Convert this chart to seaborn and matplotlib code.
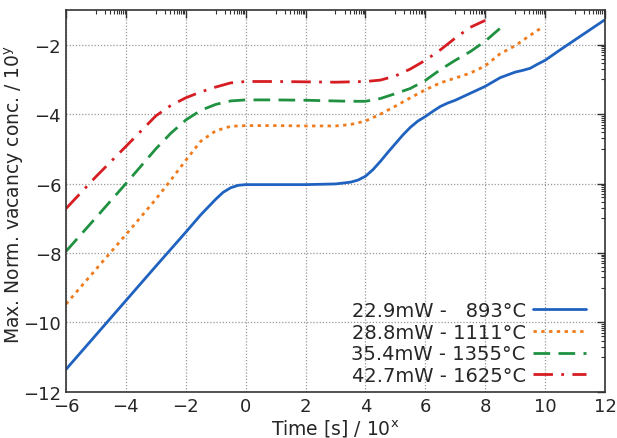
import numpy as np
import pandas as pd
import matplotlib
matplotlib.use("Agg")
import matplotlib.pyplot as plt
import seaborn as sns

# values (log10 time, log10 max. norm. vacancy conc.)
t_893 = [-6, -5, -4, -3, -2, -1.5, -1, -0.75, -0.5, -0.25, 0, 1, 2, 3, 3.5, 3.75, 4,
         4.25, 4.5, 4.75, 5, 5.25, 5.5, 5.75, 6, 6.25, 6.5, 6.75, 7, 7.5, 8, 8.5, 9,
         9.25, 9.5, 9.75, 10, 10.5, 11, 11.5, 12]
c_893 = [-11.35, -10.36, -9.37, -8.38, -7.4, -6.9, -6.45, -6.25, -6.12, -6.05, -6.03,
         -6.03, -6.03, -6.01, -5.96, -5.9, -5.79, -5.6, -5.36, -5.1, -4.85, -4.6, -4.38,
         -4.2, -4.07, -3.92, -3.78, -3.68, -3.6, -3.4, -3.2, -2.95, -2.79, -2.74, -2.68,
         -2.56, -2.45, -2.15, -1.86, -1.57, -1.28]

t_1111 = [-6, -5, -4, -3, -2.5, -2, -1.5, -1, -0.5, 0, 1, 2, 3, 3.5, 4, 4.5, 5, 5.5,
          6, 6.5, 7, 7.5, 8, 8.5, 9, 9.5, 9.9]
c_1111 = [-9.47, -8.47, -7.47, -6.45, -5.9, -5.33, -4.78, -4.48, -4.35, -4.33, -4.33,
          -4.34, -4.34, -4.3, -4.2, -4.0, -3.77, -3.53, -3.3, -3.1, -2.96, -2.82, -2.61,
          -2.26, -2.03, -1.73, -1.5]

t_1355 = [-6, -5, -4, -3, -2.5, -2, -1.5, -1, -0.5, 0, 1, 2, 3, 3.5, 4, 4.5, 5, 5.5,
          6, 6.5, 7, 7.5, 8, 8.6]
c_1355 = [-7.95, -6.98, -6.0, -5.0, -4.55, -4.17, -3.89, -3.72, -3.62, -3.59, -3.59,
          -3.6, -3.62, -3.63, -3.63, -3.55, -3.41, -3.26, -3.03, -2.72, -2.45, -2.2,
          -1.9, -1.45]

t_1625 = [-6, -5, -4, -3, -2.5, -2, -1.5, -1, -0.5, 0, 1, 2, 3, 3.5, 4, 4.5, 5, 5.5,
          6, 6.5, 7, 7.5, 8]
c_1625 = [-6.72, -5.8, -4.93, -4.05, -3.75, -3.53, -3.36, -3.22, -3.1, -3.06, -3.06,
          -3.07, -3.08, -3.07, -3.06, -3.02, -2.9, -2.7, -2.45, -2.15, -1.81, -1.5, -1.3]

labels = ["22.9mW -   893°C", "28.8mW - 1111°C", "35.4mW - 1355°C", "42.7mW - 1625°C"]
colors = ["#1f62c0", "#f07b1c", "#1f9141", "#d61d22"]
dashes = [None, (1.2, 1.6), (6, 3), (7, 3, 1, 3)]

sns.set_style("white")
plt.rcParams["font.family"] = ["DejaVu Sans"]

fig = plt.figure(figsize=(6.17, 4.39), dpi=100)
ax = fig.add_axes([0.107, 0.105, 0.8735, 0.87])

series = [(t_893, c_893), (t_1111, c_1111), (t_1355, c_1355), (t_1625, c_1625)]
for (tt, cc), lab, col, ds in zip(series, labels, colors, dashes):
    df = pd.DataFrame({"t": tt, "c": cc})
    sns.lineplot(data=df, x="t", y="c", ax=ax, color=col, lw=2.0, label=lab)
    if ds is not None:
        ax.lines[-1].set_dashes(ds)

ax.set_xlim(-6, 12)
ax.set_ylim(-12, -1)
ax.set_xticks(np.arange(-6, 13, 2))
ax.set_yticks(np.arange(-12, -1, 2))

# gnuplot-like log minor tics in odd intervals
mx = [n + np.log10(k) for n in range(-5, 12, 2) for k in range(1, 10)]
my = [n + np.log10(k) for n in range(-11, -1, 2) for k in range(1, 10)]
ax.set_xticks(mx, minor=True)
ax.set_yticks(my, minor=True)

ax.tick_params(which="both", direction="in", top=True, right=True, labelsize=13,
               color="#333333")
ax.tick_params(which="major", length=6, width=1)
ax.tick_params(which="minor", length=3, width=0.8)
ax.grid(True, which="major", linestyle=(0, (1, 1.5)), color="#999999", lw=0.9)
for s in ax.spines.values():
    s.set_color("#333333")
    s.set_linewidth(1.2)

ax.set_xlabel("Time [s] / 10$^\\mathregular{x}$", fontsize=13.5, labelpad=2)
ax.set_ylabel("Max. Norm. vacancy conc. / 10$^\\mathregular{y}$", fontsize=13.5)
ax.yaxis.set_label_coords(-0.074, 0.52)

ax.legend(loc="lower right", bbox_to_anchor=(0.99, -0.018), frameon=False,
          markerfirst=False, fontsize=14, handlelength=2.7, labelspacing=0.14,
          handletextpad=0.4, borderaxespad=0.3)

fig.savefig("out.png", dpi=100)
